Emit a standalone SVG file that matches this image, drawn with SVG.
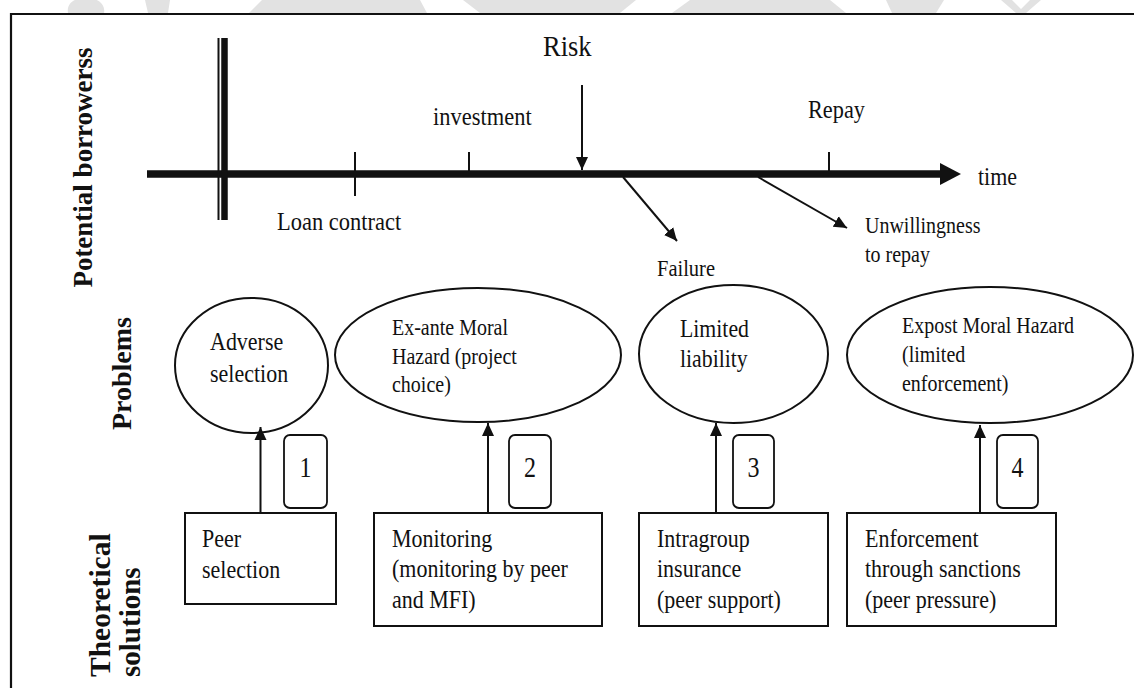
<svg xmlns="http://www.w3.org/2000/svg" width="1134" height="688" viewBox="0 0 1134 688">
  <style>
    text { font-family: "Liberation Serif", "Times New Roman", serif; fill: #111; }
    .lbl { font-weight: bold; }
    .shape { fill: #fff; stroke: #111; stroke-width: 2; }
    .num { fill: #fff; stroke: #111; stroke-width: 1.8; }
    .ln { stroke: #111; stroke-width: 2; fill: none; }
    .wm { fill: #e2e2e2; }
  </style>
  <defs>
    <marker id="head" markerUnits="userSpaceOnUse" markerWidth="14" markerHeight="14" viewBox="0 0 14 14" refX="13" refY="7" orient="auto">
      <path d="M0,1 L13,7 L0,13 Z" fill="#111"/>
    </marker>
  </defs>

  <rect width="1134" height="688" fill="#fff"/>

  <!-- faint header marks above the frame -->
  <g id="header-marks">
    <path class="wm" d="M68,13 C66,2 78,-4 86,0 C96,-4 106,4 104,13 Z"/>
    <path class="wm" d="M145,0 L170,0 L168,13 L148,13 Z"/>
    <path class="wm" d="M249,13 L262,0 L420,0 L427,13 Z"/>
    <path class="wm" d="M463,0 L636,0 L620,13 L480,13 Z"/>
    <path class="wm" d="M672,13 L690,0 L830,0 L846,13 Z"/>
    <path class="wm" d="M886,0 L944,0 L936,13 L892,13 Z"/>
    <path class="wm" d="M1001,0 L1012,0 L1021,9 L1030,0 L1041,0 L1026,13 L1016,13 Z"/>
  </g>

  <!-- frame -->
  <g id="frame">
    <line x1="10" y1="14" x2="1134" y2="14" stroke="#111" stroke-width="2.2"/>
    <line x1="11" y1="13" x2="11" y2="688" stroke="#111" stroke-width="2.2"/>
  </g>

  <!-- row labels -->
  <g id="row-labels">
    <text class="lbl" font-size="27" text-anchor="middle" transform="translate(92 167.5) rotate(-90)">Potential borrowerss</text>
    <text class="lbl" font-size="28" text-anchor="middle" transform="translate(131 373.5) rotate(-90)">Problems</text>
    <text class="lbl" font-size="29.5" transform="translate(110 677) rotate(-90)">Theoretical</text>
    <text class="lbl" font-size="29" transform="translate(140 677) rotate(-90)">solutions</text>
  </g>

  <!-- time axis -->
  <g id="timeline">
    <line x1="147" y1="174" x2="944" y2="174" stroke="#111" stroke-width="7.5"/>
    <path d="M940,163 L961,174 L940,185 Z" fill="#111"/>
    <line x1="218.5" y1="38" x2="218.5" y2="220" stroke="#111" stroke-width="2"/>
    <line x1="224.5" y1="38" x2="224.5" y2="220" stroke="#111" stroke-width="6.5"/>
    <line x1="355" y1="152" x2="355" y2="196" stroke="#111" stroke-width="2"/>
    <line x1="469" y1="152" x2="469" y2="172" stroke="#111" stroke-width="2"/>
    <line x1="829" y1="152" x2="829" y2="172" stroke="#111" stroke-width="2"/>
    <text font-size="26.5" transform="translate(543 56) scale(1 1.12)">Risk</text>
    <text font-size="22.5" transform="translate(433 125) scale(1 1.12)">investment</text>
    <text font-size="22.5" transform="translate(277 230) scale(1 1.12)">Loan contract</text>
    <text font-size="22.3" transform="translate(808 118) scale(1 1.12)">Repay</text>
    <text font-size="22" transform="translate(978 185) scale(1 1.12)">time</text>
    <text font-size="20" transform="translate(865 233) scale(1 1.12)">Unwillingness<tspan x="0" dy="26">to repay</tspan></text>
    <text font-size="20.5" transform="translate(657 276) scale(1 1.12)">Failure</text>
  </g>

  <!-- problems -->
  <g id="adverse-selection">
    <ellipse class="shape" cx="251.5" cy="365.5" rx="76.5" ry="67.5"/>
    <text font-size="22" transform="translate(210 350) scale(1 1.12)">Adverse<tspan x="0" dy="28.5">selection</tspan></text>
  </g>
  <g id="exante-moral-hazard">
    <ellipse class="shape" cx="478" cy="355" rx="143" ry="67"/>
    <text font-size="20" transform="translate(392 335) scale(1 1.12)">Ex-ante Moral<tspan x="0" dy="25.5">Hazard (project</tspan><tspan x="0" dy="25.5">choice)</tspan></text>
  </g>
  <g id="limited-liability">
    <ellipse class="shape" cx="733.5" cy="354" rx="94.5" ry="69"/>
    <text font-size="21.8" transform="translate(680 337) scale(1 1.12)">Limited<tspan x="0" dy="27">liability</tspan></text>
  </g>
  <g id="expost-moral-hazard">
    <ellipse class="shape" cx="990" cy="355" rx="143" ry="68"/>
    <text font-size="20" transform="translate(902 333) scale(1 1.12)">Expost Moral Hazard<tspan x="0" dy="26">(limited</tspan><tspan x="0" dy="26">enforcement)</tspan></text>
  </g>

  <!-- links from solutions up to problems -->
  <g id="connectors">
    <line class="ln" x1="260.5" y1="513" x2="260.5" y2="427" marker-end="url(#head)"/>
    <line class="ln" x1="488" y1="513" x2="488" y2="423" marker-end="url(#head)"/>
    <line class="ln" x1="716" y1="513" x2="716" y2="423" marker-end="url(#head)"/>
    <line class="ln" x1="980" y1="513" x2="980" y2="425" marker-end="url(#head)"/>
    <line class="ln" x1="582" y1="85" x2="582" y2="170" marker-end="url(#head)"/>
    <line class="ln" x1="623" y1="177" x2="677" y2="241" marker-end="url(#head)"/>
    <line class="ln" x1="758" y1="177" x2="847" y2="228" marker-end="url(#head)"/>
  </g>

  <!-- step numbers -->
  <g id="step-1">
    <rect class="num" x="284" y="435" width="43" height="73" rx="6"/>
    <text font-size="24" text-anchor="middle" transform="translate(305.5 477) scale(1 1.2)">1</text>
  </g>
  <g id="step-2">
    <rect class="num" x="509" y="435" width="42" height="73" rx="6"/>
    <text font-size="24" text-anchor="middle" transform="translate(530 477) scale(1 1.2)">2</text>
  </g>
  <g id="step-3">
    <rect class="num" x="733" y="435" width="41" height="73" rx="6"/>
    <text font-size="24" text-anchor="middle" transform="translate(753.5 477) scale(1 1.2)">3</text>
  </g>
  <g id="step-4">
    <rect class="num" x="997" y="435" width="41" height="73" rx="6"/>
    <text font-size="24" text-anchor="middle" transform="translate(1017.5 477) scale(1 1.2)">4</text>
  </g>

  <!-- theoretical solutions -->
  <g id="peer-selection">
    <rect class="shape" x="185" y="513" width="151" height="91"/>
    <text font-size="22" transform="translate(202 547) scale(1 1.12)">Peer<tspan x="0" dy="27.5">selection</tspan></text>
  </g>
  <g id="monitoring">
    <rect class="shape" x="374" y="513" width="228" height="113"/>
    <text font-size="22" transform="translate(392 547) scale(1 1.12)">Monitoring<tspan x="0" dy="27.2">(monitoring by peer</tspan><tspan x="0" dy="27.2">and MFI)</tspan></text>
  </g>
  <g id="intragroup-insurance">
    <rect class="shape" x="639" y="513" width="189" height="113"/>
    <text font-size="22" transform="translate(657 547) scale(1 1.12)">Intragroup<tspan x="0" dy="27.2">insurance</tspan><tspan x="0" dy="27.2">(peer support)</tspan></text>
  </g>
  <g id="enforcement">
    <rect class="shape" x="847" y="513" width="209" height="113"/>
    <text font-size="22" transform="translate(865 547) scale(1 1.12)">Enforcement<tspan x="0" dy="27.2">through sanctions</tspan><tspan x="0" dy="27.2">(peer pressure)</tspan></text>
  </g>
</svg>
